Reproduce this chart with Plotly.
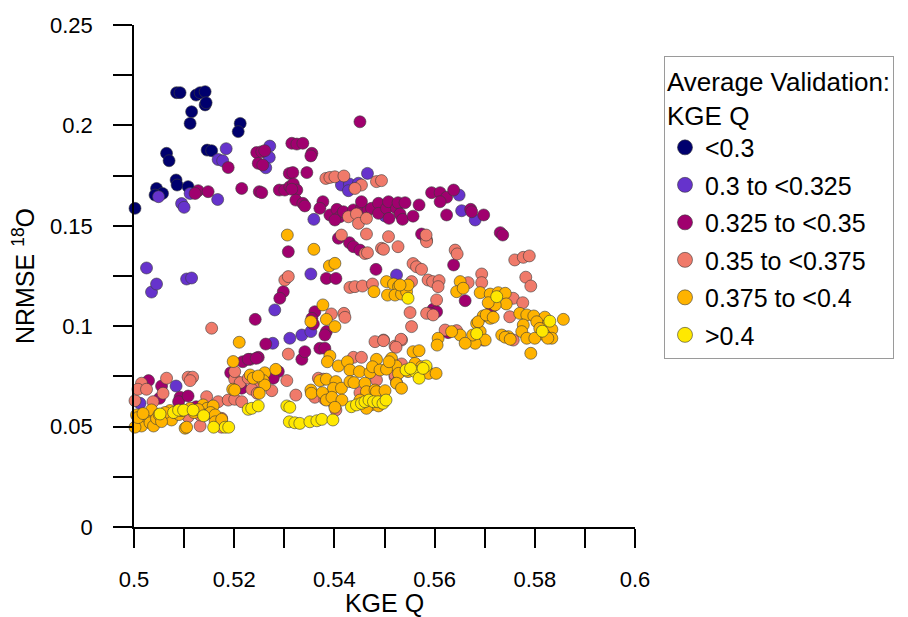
import plotly.graph_objects as go

# ---------------- data ----------------
categories = ["<0.3", "0.3 to <0.325", "0.325 to <0.35", "0.35 to <0.375", "0.375 to <0.4", ">0.4"]
colors = ["#00006E", "#6633CC", "#A0006E", "#F07A6A", "#FFB300", "#FFE800"]

x_lt030 = [0.5085, 0.5092, 0.5124, 0.5132, 0.5142, 0.5142, 0.5144, 0.5115, 0.5112, 0.5212, 0.5208,
           0.5065, 0.5070, 0.5146, 0.5155, 0.5084, 0.5086, 0.5045, 0.5057, 0.5042, 0.5108, 0.5002]
y_lt030 = [0.2163, 0.2163, 0.2151, 0.2163, 0.2168, 0.2102, 0.2113, 0.2068, 0.2010, 0.2010, 0.1969,
           0.1861, 0.1824, 0.1877, 0.1874, 0.1728, 0.1703, 0.1686, 0.1661, 0.1653, 0.1695, 0.1587]

x_030 = [0.5184, 0.5168, 0.5177, 0.5049, 0.5112, 0.5095, 0.5100, 0.5167,
         0.5025, 0.5035, 0.5045, 0.5105, 0.5115,
         0.5271, 0.5270, 0.5263, 0.5466, 0.5414, 0.5430, 0.5448, 0.5428, 0.5359,
         0.5649, 0.5654, 0.5681, 0.5501,
         0.5353, 0.5281, 0.5335, 0.5353, 0.5311, 0.5277,
         0.5084, 0.5012, 0.5524]
y_030 = [0.1884, 0.1830, 0.1824, 0.1645, 0.1661, 0.1611, 0.1592, 0.1631,
         0.1290, 0.1170, 0.1210, 0.1235, 0.1240,
         0.1897, 0.1841, 0.1789, 0.1761, 0.1703, 0.1708, 0.1712, 0.1675, 0.1532,
         0.1653, 0.1575, 0.1529, 0.1549,
         0.1260, 0.1081, 0.0956, 0.0973, 0.0940, 0.0915,
         0.0702, 0.0616, 0.1255]

x_0325 = [0.5128, 0.5122, 0.5148, 0.5215, 0.5188,
          0.5451,
          0.5245, 0.5255, 0.5261, 0.5248, 0.5257,
          0.5315, 0.5325, 0.5337, 0.5355, 0.5353,
          0.5345, 0.5310, 0.5317,
          0.5250, 0.5255,
          0.5290, 0.5301, 0.5311, 0.5318, 0.5325, 0.5315,
          0.5323, 0.5337, 0.5341, 0.5377, 0.5371,
          0.5391, 0.5405, 0.5411, 0.5418, 0.5401,
          0.5438, 0.5454, 0.5467,
          0.5454,
          0.5594, 0.5611, 0.5624, 0.5638, 0.5611,
          0.5474, 0.5488, 0.5488, 0.5504, 0.5508, 0.5524, 0.5527, 0.5541, 0.5531, 0.5536, 0.5509, 0.5557, 0.5569,
          0.5624, 0.5698, 0.5672, 0.5674, 0.5574, 0.5731, 0.5736,
          0.5308, 0.5408, 0.5430, 0.5438, 0.5451, 0.5483,
          0.5384, 0.5403, 0.5298, 0.5291, 0.5242,
          0.5361, 0.5355, 0.5358, 0.5384, 0.5381,
          0.5263, 0.5248, 0.5232, 0.5335, 0.5341, 0.5371, 0.5381,
          0.5288, 0.5278, 0.5248, 0.5245,
          0.4999, 0.5029, 0.5055, 0.5051, 0.5092, 0.5089, 0.5108, 0.5124,
          0.5217, 0.5228, 0.5193, 0.5215, 0.5244, 0.5245,
          0.5638, 0.5661, 0.5597, 0.5604, 0.5592, 0.5714, 0.5627]
y_0325 = [0.1675, 0.1661, 0.1670, 0.1686, 0.1790,
          0.2018,
          0.1865, 0.1869, 0.1874, 0.1811, 0.1803,
          0.1911, 0.1907, 0.1911, 0.1861, 0.1848,
          0.1765, 0.1761, 0.1765,
          0.1670, 0.1665,
          0.1678, 0.1678, 0.1695, 0.1708, 0.1678, 0.1682,
          0.1628, 0.1612, 0.1599, 0.1620, 0.1587,
          0.1554, 0.1582, 0.1545, 0.1570, 0.1529,
          0.1579, 0.1587, 0.1579,
          0.1620,
          0.1665, 0.1665, 0.1642, 0.1678, 0.1620,
          0.1587, 0.1612, 0.1562, 0.1587, 0.1620, 0.1587, 0.1615, 0.1615, 0.1559, 0.1532, 0.1537, 0.1548, 0.1604,
          0.1554, 0.1554, 0.1582, 0.1570, 0.1459, 0.1466, 0.1454,
          0.1371, 0.1438, 0.1416, 0.1396, 0.1379, 0.1283,
          0.1238, 0.1238, 0.1172, 0.1139, 0.1034,
          0.1072, 0.1039, 0.1011, 0.0973, 0.0956,
          0.0911, 0.0845, 0.0835, 0.0835, 0.0873, 0.0890, 0.0890,
          0.0774, 0.0741, 0.0682, 0.0702,
          0.0716, 0.0729, 0.0702, 0.0641, 0.0646, 0.0624, 0.0652, 0.0599,
          0.0823, 0.0835, 0.0768, 0.0691, 0.0840, 0.0679,
          0.1305, 0.1127, 0.1084, 0.1072, 0.1064, 0.1094, 0.0968]

x_035 = [0.5383, 0.5391, 0.5401, 0.5419, 0.5454, 0.5441,
         0.5428, 0.5444, 0.5448, 0.5464, 0.5414,
         0.5484, 0.5494,
         0.5464, 0.5508, 0.5584,
         0.5527, 0.5584, 0.5583, 0.5494,
         0.5641, 0.5645,
         0.5760, 0.5777, 0.5789, 0.5782,
         0.5557, 0.5564, 0.5574,
         0.5554, 0.5544,
         0.5587, 0.5596, 0.5609, 0.5607,
         0.5667, 0.5694, 0.5694,
         0.5792,
         0.5757, 0.5776, 0.5750,
         0.5604, 0.5584, 0.5597,
         0.5551, 0.5554,
         0.5534, 0.5521, 0.5498,
         0.5621, 0.5644, 0.5697, 0.5757,
         0.5514, 0.5521,
         0.5461, 0.5466, 0.5498,
         0.5301, 0.5308,
         0.5431, 0.5441, 0.5456, 0.5476,
         0.5394, 0.5419, 0.5421,
         0.5481, 0.5498, 0.5533, 0.5523,
         0.5308,
         0.5438, 0.5454,
         0.5511, 0.5534,
         0.5484, 0.5521, 0.5524,
         0.5251, 0.5275, 0.5305,
         0.5368, 0.5378,
         0.5323, 0.5361, 0.5381, 0.5398, 0.5403, 0.5451,
         0.5002, 0.5015, 0.5008, 0.5025,
         0.5038, 0.5058, 0.5065,
         0.5108, 0.5117, 0.5112,
         0.5145, 0.5168,
         0.5108, 0.5132, 0.5132, 0.5175, 0.5175,
         0.5188, 0.5201, 0.5215,
         0.5201, 0.5212, 0.5201, 0.5228, 0.5235, 0.5246,
         0.5155]
y_035 = [0.1736, 0.1741, 0.1744, 0.1748, 0.1703, 0.1686,
         0.1545, 0.1559, 0.1512, 0.1537, 0.1454,
         0.1720, 0.1725,
         0.1459, 0.1446, 0.1429,
         0.1396, 0.1421, 0.1454, 0.1388,
         0.1379, 0.1360,
         0.1330, 0.1343, 0.1350, 0.1244,
         0.1312, 0.1296, 0.1283,
         0.1222, 0.1197,
         0.1230, 0.1222, 0.1227, 0.1197,
         0.1217, 0.1260, 0.1217,
         0.1200,
         0.1139, 0.1117, 0.1047,
         0.1131, 0.1064, 0.1056,
         0.1068, 0.0998,
         0.0931, 0.0901, 0.0931,
         0.0981, 0.0978, 0.0931, 0.0931,
         0.0790, 0.0748,
         0.1362, 0.1366, 0.1383,
         0.1230, 0.1247,
         0.1193, 0.1197, 0.1200, 0.1210,
         0.1061, 0.1064, 0.1044,
         0.0923, 0.0928, 0.0935, 0.0895,
         0.0861,
         0.0845, 0.0845,
         0.0798, 0.0812,
         0.0732, 0.0757, 0.0719,
         0.0716, 0.0679, 0.0729,
         0.0741, 0.0736,
         0.0657, 0.0646, 0.0636, 0.0619, 0.0583, 0.0669,
         0.0629, 0.0716, 0.0686, 0.0686,
         0.0624, 0.0666, 0.0741,
         0.0746, 0.0746, 0.0729,
         0.0649, 0.0624,
         0.0549, 0.0503, 0.0558, 0.0541, 0.0497,
         0.0632, 0.0636, 0.0624,
         0.0736, 0.0719, 0.0774, 0.0741, 0.0686, 0.0666,
         0.0990]

x_0375 = [0.5306, 0.5359, 0.5390, 0.5401, 0.5479, 0.5504, 0.5506,
          0.5377, 0.5384, 0.5401, 0.5353,
          0.5518, 0.5528, 0.5521, 0.5534, 0.5544, 0.5547, 0.5531,
          0.5651, 0.5644, 0.5657,
          0.5691, 0.5711, 0.5727, 0.5741, 0.5743, 0.5721, 0.5707,
          0.5697, 0.5711, 0.5684, 0.5691, 0.5701, 0.5681, 0.5676,
          0.5651, 0.5661, 0.5634, 0.5607, 0.5605,
          0.5734, 0.5747,
          0.5770, 0.5784, 0.5798, 0.5820, 0.5827, 0.5834, 0.5804, 0.5810, 0.5820, 0.5834, 0.5777, 0.5774, 0.5784, 0.5800,
          0.5857, 0.5792, 0.5826,
          0.5687, 0.5703, 0.5717, 0.5741, 0.5751,
          0.5514, 0.5523, 0.5528, 0.5524, 0.5534,
          0.5557, 0.5569, 0.5561, 0.5547, 0.5574, 0.5583, 0.5588, 0.5603,
          0.5391, 0.5386,
          0.5408, 0.5426, 0.5431, 0.5450, 0.5471, 0.5484, 0.5476, 0.5491, 0.5504, 0.5509,
          0.5261, 0.5283, 0.5232, 0.5258, 0.5261,
          0.5371, 0.5384, 0.5403, 0.5398, 0.5414, 0.5431, 0.5439, 0.5461, 0.5464, 0.5481, 0.5484, 0.5501,
          0.5353, 0.5354, 0.5376, 0.5384, 0.5395, 0.5415, 0.5401, 0.5473, 0.5488, 0.5495, 0.5451, 0.5464,
          0.5210,
          0.5005, 0.5012, 0.5015, 0.5002, 0.5025, 0.5032, 0.5039, 0.5035, 0.5072, 0.5075, 0.5062, 0.5082,
          0.5102, 0.5105, 0.5112, 0.5138, 0.5146, 0.5142, 0.5158, 0.5153, 0.5162, 0.5162, 0.5175,
          0.5198, 0.5197, 0.5201, 0.5238, 0.5248, 0.5250,
          0.5008, 0.5018, 0.5045, 0.5050, 0.5055, 0.5090, 0.5095, 0.5120, 0.5128]
y_0375 = [0.1454, 0.1383, 0.1300, 0.1313, 0.1172, 0.1222, 0.1155,
          0.1106, 0.1034, 0.0998, 0.1023,
          0.1210, 0.1197, 0.1155, 0.1160, 0.1172, 0.1205, 0.1205,
          0.1222, 0.1172, 0.1189,
          0.1167, 0.1160, 0.1167, 0.1164, 0.1111, 0.1106, 0.1117,
          0.1051, 0.1039, 0.1014, 0.0973, 0.0931, 0.0915, 0.0956,
          0.0956, 0.0915, 0.0973, 0.0940, 0.0906,
          0.0956, 0.0948,
          0.1064, 0.1056, 0.1051, 0.1045, 0.1011, 0.0984, 0.1022, 0.0989, 0.0956, 0.0940, 0.1006, 0.0973, 0.0940, 0.0940,
          0.1034, 0.0865, 0.0940,
          0.1022, 0.1056, 0.1044, 0.0945, 0.0935,
          0.0840, 0.0802, 0.0765, 0.0716, 0.0691,
          0.0873, 0.0878, 0.0815, 0.0774, 0.0798, 0.0790, 0.0765, 0.0765,
          0.0852, 0.0823,
          0.0802, 0.0823, 0.0782, 0.0774, 0.0769, 0.0835, 0.0798, 0.0782, 0.0786, 0.0823,
          0.0768, 0.0785, 0.0757, 0.0729, 0.0707,
          0.0729, 0.0736, 0.0724, 0.0691, 0.0691, 0.0724, 0.0719, 0.0716, 0.0674, 0.0682, 0.0674, 0.0679,
          0.0682, 0.0666, 0.0669, 0.0632, 0.0646, 0.0632, 0.0596, 0.0608, 0.0603, 0.0619, 0.0632, 0.0591,
          0.0920,
          0.0558, 0.0533, 0.0503, 0.0497, 0.0549, 0.0519, 0.0503, 0.0583, 0.0580, 0.0533, 0.0570, 0.0570,
          0.0492, 0.0497, 0.0591, 0.0608, 0.0591, 0.0558, 0.0603, 0.0570, 0.0558, 0.0524, 0.0536,
          0.0824, 0.0686, 0.0682, 0.0741, 0.0752, 0.0666,
          0.0545, 0.0565, 0.0540, 0.0560, 0.0525, 0.0560, 0.0580, 0.0570, 0.0585]

x_gt040 = [0.5547, 0.5724, 0.5684,
           0.5815, 0.5830,
           0.5434, 0.5444, 0.5454, 0.5461, 0.5469, 0.5478, 0.5487, 0.5497, 0.5503,
           0.5305, 0.5311,
           0.5310, 0.5321, 0.5331, 0.5351, 0.5365, 0.5375, 0.5397,
           0.5543, 0.5561, 0.5569, 0.5583, 0.5577, 0.5552,
           0.5052, 0.5079, 0.5089, 0.5099, 0.5118, 0.5139, 0.5159, 0.5182, 0.5189, 0.5228, 0.5235, 0.5248]
y_gt040 = [0.1139, 0.1147, 0.0963,
           0.0975, 0.1025,
           0.0599, 0.0608, 0.0616, 0.0624, 0.0632, 0.0624, 0.0624, 0.0616, 0.0632,
           0.0603, 0.0596,
           0.0524, 0.0519, 0.0516, 0.0524, 0.0529, 0.0536, 0.0533,
           0.0782, 0.0774, 0.0741, 0.0802, 0.0790, 0.0790,
           0.0563, 0.0570, 0.0582, 0.0582, 0.0582, 0.0554, 0.0497, 0.0497, 0.0497, 0.0586, 0.0591, 0.0603]

# tick labels (major) and unlabeled minor tick positions
x_tickvals = [0.50, 0.52, 0.54, 0.56, 0.58, 0.60]
x_ticktext = ["0.5", "0.52", "0.54", "0.56", "0.58", "0.6"]
x_minorvals = [0.51, 0.53, 0.55, 0.57, 0.59]
y_tickvals = [0, 0.05, 0.1, 0.15, 0.2, 0.25]
y_ticktext = ["0", "0.05", "0.1", "0.15", "0.2", "0.25"]
y_minorvals = [0.025, 0.075, 0.125, 0.175, 0.225]

series = [(x_lt030, y_lt030), (x_030, y_030), (x_0325, y_0325),
          (x_035, y_035), (x_0375, y_0375), (x_gt040, y_gt040)]

# ---------------- figure ----------------
FONT = "Arial, Liberation Sans, sans-serif"
OUTLINE = dict(color="#3a3a3a", width=0.6)
fig = go.Figure()
for name, col, (xs, ys) in zip(categories, colors, series):
    fig.add_trace(go.Scatter(
        x=xs, y=ys, mode="markers", name=name, legendgroup=name, showlegend=False,
        cliponaxis=False,
        marker=dict(size=12, color=col, line=OUTLINE),
    ))
# legend-only entries (larger symbols, as in the reference legend)
for name, col in zip(categories, colors):
    fig.add_trace(go.Scatter(
        x=[None], y=[None], mode="markers", name=name, legendgroup=name, showlegend=True,
        marker=dict(size=15, color=col, line=OUTLINE),
    ))

axis_common = dict(
    showline=True, linecolor="black", linewidth=1.5, mirror=False,
    ticks="outside", ticklen=19, tickwidth=1.5, tickcolor="black",
    showgrid=False, zeroline=False,
    tickfont=dict(family=FONT, size=22, color="black"),
)

fig.update_layout(
    width=908, height=617,
    margin=dict(l=134, r=273, t=25, b=90, autoexpand=False),
    paper_bgcolor="white", plot_bgcolor="white",
    font=dict(family=FONT, color="black"),
    xaxis=dict(range=[0.5, 0.6], tickmode="array", tickvals=x_tickvals, ticktext=x_ticktext,
               minor=dict(tickmode="array", tickvals=x_minorvals, ticks="outside",
                          ticklen=19, tickwidth=1.5, tickcolor="black", showgrid=False),
               ticklabelstandoff=13,
               title=dict(text="KGE Q", font=dict(family=FONT, size=25), standoff=0),
               **axis_common),
    yaxis=dict(range=[0, 0.25], tickmode="array", tickvals=y_tickvals, ticktext=y_ticktext,
               minor=dict(tickmode="array", tickvals=y_minorvals, ticks="outside",
                          ticklen=19, tickwidth=1.5, tickcolor="black", showgrid=False),
               ticklabelstandoff=16,
               title=dict(text="NRMSE <sup>18</sup>O", font=dict(family=FONT, size=25), standoff=8),
               **axis_common),
    legend=dict(
        x=(664 - 134) / 501, xanchor="left", y=1 - (56 - 25) / 502, yanchor="top",
        bordercolor="#9a9a9a", borderwidth=1, bgcolor="white",
        title=dict(text="Average Validation:<br>KGE Q", font=dict(family=FONT, size=26)),
        font=dict(family=FONT, size=25),
        tracegroupgap=2, itemsizing="trace",
    ),
    showlegend=True,
)

fig.write_html("out.html")
